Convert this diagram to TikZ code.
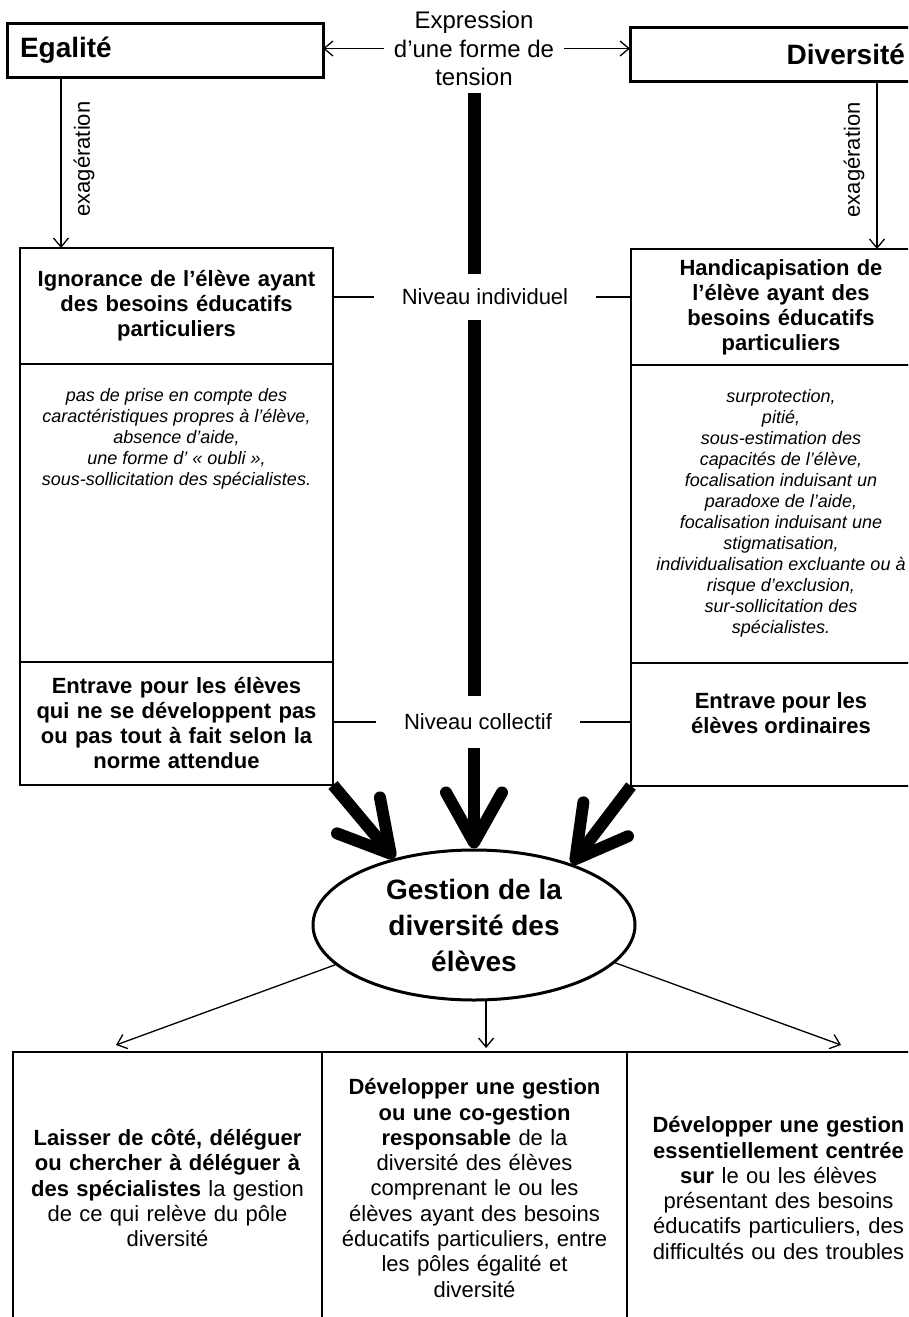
\documentclass[tikz,border=0pt]{standalone}
\usepackage{fontspec}
\setmainfont{Liberation Sans}
\usetikzlibrary{arrows.meta, positioning, shapes.geometric}

\tikzset{
  polebox/.style={draw, line width=3pt, outer sep=0pt, minimum height=54pt, inner xsep=13pt, inner ysep=0pt, font=\fontsize{28}{32}\selectfont\bfseries},
  cell/.style={draw, line width=1.4pt, outer sep=0pt, inner sep=0pt, align=center},
  titletext/.style={font=\fontsize{22}{25}\selectfont\bfseries},
  listtext/.style={font=\fontsize{18}{21}\selectfont\itshape, align=center, inner sep=0pt},
  leveltext/.style={font=\fontsize{22}{26}\selectfont, inner xsep=28pt, inner ysep=0pt},
  levelline/.style={line width=1.3pt},
  bar/.style={line width=13pt},
  bigarrow/.style={line width=12pt, -{Straight Barb[length=50pt, width=56pt, round]}},
  thinarrow/.style={line width=1.3pt, -{Straight Barb[length=9pt, width=15pt]}},
  exag/.style={rotate=90, font=\fontsize{22}{26}\selectfont, inner xsep=0pt, inner ysep=12pt},
  botcell/.style={draw, line width=1.4pt, outer sep=0pt, minimum height=272pt, inner sep=0pt, align=center, font=\fontsize{22}{25.3}\selectfont}
}

\begin{document}
\begin{tikzpicture}[x=1pt, y=-1pt]
        \useasboundingbox (0,0) rectangle (908,1317);
        \clip (0,0) rectangle (908,1317);
        \fill[white] (0,0) rectangle (908,1317);

        % 两极
        \node[polebox, text width=290pt, align=left] (egal) at (165,50) {Egalité};
        \node[polebox, text width=262pt, align=right] (diver) at (774,54) {Diversité\hspace*{13pt}};
        \node[font=\fontsize{24}{28.5}\selectfont, align=center, inner xsep=10pt] (expr) at (474,48.5) {Expression\\d’une forme de\\tension};
        \draw[thinarrow] (expr.west) -- (expr.west -| egal.east);
        \draw[thinarrow] (expr.east) -- (expr.east -| diver.west);

        % 左栏
        \node[cell, titletext, text width=313pt, minimum height=116pt] (lefttitle) at (176.5,306) {Ignorance de l’élève ayant\\des besoins éducatifs\\particuliers};
        \node[cell, text width=313pt, minimum height=298pt, below=0pt of lefttitle] (leftmid) {};
        \node[cell, titletext, text width=313pt, minimum height=123pt, below=0pt of leftmid] (leftcoll) {Entrave pour les élèves\\qui ne se développent pas\\ou pas tout à fait selon la\\norme attendue};
        \node[listtext, below=24pt of leftmid.north] (leftlist) {pas de prise en compte des\\caractéristiques propres à l'élève,\\absence d'aide,\\une forme d' « oubli »,\\sous-sollicitation des spécialistes.};

        % 右栏
        \node[cell, titletext, text width=300pt, minimum height=116pt] (righttitle) at (781,307) {Handicapisation de\\l’élève ayant des\\besoins éducatifs\\particuliers};
        \node[cell, text width=300pt, minimum height=298pt, below=0pt of righttitle] (rightmid) {};
        \node[cell, text width=300pt, minimum height=123pt, below=0pt of rightmid] (rightcoll) {};
        \node[titletext, align=center] (rightcolltext) at ([yshift=11pt]rightcoll.center) {Entrave pour les\\élèves ordinaires};
        \node[listtext, below=24pt of rightmid.north] (rightlist) {surprotection,\\pitié,\\sous-estimation des\\capacités de l'élève,\\focalisation induisant un\\paradoxe de l'aide,\\focalisation induisant une\\stigmatisation,\\individualisation excluante ou à\\risque d'exclusion,\\sur-sollicitation des\\spécialistes.};

        % 夸大
        \draw[thinarrow] ([xshift=54pt]egal.south west) -- node[exag, anchor=north, pos=.48] (exagL) {exagération} ([xshift=41pt]lefttitle.north west);
        \draw[thinarrow] ([xshift=247pt]diver.south west) -- node[exag, anchor=south, pos=.47] (exagR) {exagération} ([xshift=246pt]righttitle.north west);

        % 层次
        \node[leveltext, minimum height=46pt] (indiv) at (485,297) {Niveau individuel};
        \node[leveltext, minimum height=52pt] (coll) at (478,722) {Niveau collectif};
        \draw[levelline] (indiv.west) -- (indiv.west -| lefttitle.east);
        \draw[levelline] (indiv.east) -- (indiv.east -| righttitle.west);
        \draw[levelline] (coll.west) -- (coll.west -| leftcoll.east);
        \draw[levelline] (coll.east) -- (coll.east -| rightcoll.west);

        % 管理
        \node[ellipse, draw, line width=3pt, minimum width=322pt, minimum height=150pt, inner sep=0pt, align=center, font=\fontsize{28}{36}\selectfont\bfseries] (gestion) at (474,925) {Gestion de la\\diversité des\\élèves};

        % 粗箭头
        \draw[bar, shorten <=4pt] (expr.south) -- (expr.south |- indiv.north);
        \draw[bar] (expr.south |- indiv.south) -- (expr.south |- coll.north);
        \draw[bigarrow] (expr.south |- coll.south) -- (gestion.north);
        \draw[bigarrow] (leftcoll.south east) -- (gestion.140);
        \draw[bigarrow] (rightcoll.south west) -- (gestion.32);

        % 三种方式
        \node[botcell, text width=309pt] (leftbot) at (167.5,1188) {\textbf{Laisser de côté, déléguer}\\\textbf{ou chercher à déléguer à}\\\textbf{des spécialistes} la gestion\\de ce qui relève du pôle\\diversité};
        \node[botcell, text width=305pt, right=0pt of leftbot] (midbot) {\textbf{Développer une gestion}\\\textbf{ou une co-gestion}\\\textbf{responsable} de la\\diversité des élèves\\comprenant le ou les\\élèves ayant des besoins\\éducatifs particuliers, entre\\les pôles égalité et\\diversité};
        \node[botcell, text width=303pt, right=0pt of midbot] (rightbot) {\textbf{Développer une gestion}\\\textbf{essentiellement centrée}\\\textbf{sur} le ou les élèves\\présentant des besoins\\éducatifs particuliers, des\\difficultés ou des troubles};

        \coordinate (tipL) at (116,1045);
        \coordinate (tipR) at (841,1045);
        \coordinate (tipM) at (486,1048);
        \foreach \ang/\tip in {196/tipL, 345/tipR}
            \draw[thinarrow] (gestion.\ang) -- (\tip);
        \draw[thinarrow] (gestion.-81) -- (gestion.-81 |- tipM);
\end{tikzpicture}
\end{document}
